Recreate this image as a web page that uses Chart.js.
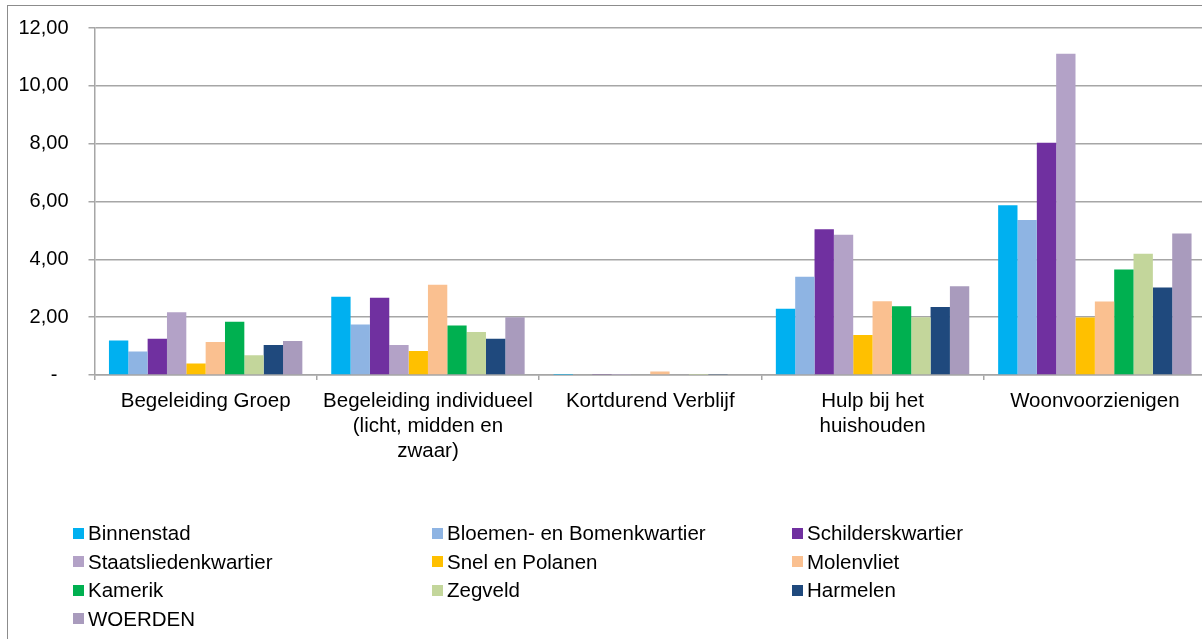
<!DOCTYPE html>
<html>
<head>
<meta charset="utf-8">
<script src="https://cdn.jsdelivr.net/npm/chart.js@4/dist/chart.umd.min.js"></script>
<style>
  html, body { margin: 0; padding: 0; background: #fff; overflow: hidden; }
  body { width: 1202px; height: 639px; position: relative; font-family: "Liberation Sans", Arial, sans-serif; }
  #frame { position: absolute; left: 7px; top: 5px; width: 1300px; height: 700px;
           border-left: 1px solid #8c8c8c; border-top: 1px solid #8c8c8c; }
  #wrap { position: absolute; left: 7px; top: 5px; width: 1199px; height: 634px; }
  #legend { position: absolute; left: 73px; top: 519px; display: grid;
            grid-template-columns: 359px 360px 360px; grid-auto-rows: 28.5px; }
  #legend .item { display: flex; align-items: center; font-size: 20.5px; color: #000; white-space: nowrap; }
  #legend .box { width: 11px; height: 11px; margin-right: 4px; flex: none; }
</style>
</head>
<body>
<div id="frame"></div>
<div id="wrap"><canvas id="chart"></canvas></div>
<div id="legend"></div>
<script>
// categories (multi-line labels as arrays)
var categories = [
  "Begeleiding Groep",
  ["Begeleiding individueel", "(licht, midden en", "zwaar)"],
  "Kortdurend Verblijf",
  ["Hulp bij het", "huishouden"],
  "Woonvoorzienigen"
];

// one array per district, values per category
var binnenstad   = [1.19, 2.71, 0.01, 2.29, 5.87];
var bloemen      = [0.81, 1.75, 0.03, 3.40, 5.36];
var schilders    = [1.25, 2.67, 0.02, 5.04, 8.03];
var staatslieden = [2.17, 1.04, 0.01, 4.85, 11.11];
var snel         = [0.40, 0.83, 0.03, 1.38, 1.99];
var molenvliet   = [1.14, 3.12, 0.12, 2.55, 2.54];
var kamerik      = [1.84, 1.71, 0.03, 2.38, 3.65];
var zegveld      = [0.68, 1.49, 0.01, 2.00, 4.19];
var harmelen     = [1.04, 1.25, 0.02, 2.35, 3.03];
var woerden      = [1.18, 2.00, 0.03, 3.07, 4.89];

var seriesNames = ["Binnenstad", "Bloemen- en Bomenkwartier", "Schilderskwartier",
  "Staatsliedenkwartier", "Snel en Polanen", "Molenvliet", "Kamerik", "Zegveld",
  "Harmelen", "WOERDEN"];
var seriesValues = [binnenstad, bloemen, schilders, staatslieden, snel,
  molenvliet, kamerik, zegveld, harmelen, woerden];
var seriesColors = ["#00b0f0", "#8eb4e3", "#7030a0", "#b3a2c7", "#ffc000",
  "#fac090", "#00b050", "#c3d69b", "#1f497d", "#a99bbd"];

var yTicks = [0, 2, 4, 6, 8, 10, 12];

(function () {
  "use strict";
  var font = { family: "'Liberation Sans', Arial, sans-serif", size: 20 };
  var gridColor = "#a6a6a6";

  var datasets = seriesNames.map(function (name, i) {
    return {
      label: name,
      data: seriesValues[i],
      backgroundColor: seriesColors[i],
      borderWidth: 0,
      categoryPercentage: 0.87,
      barPercentage: 1.0
    };
  });

  var fmt = function (v) {
    if (v === 0) return "-  ";
    return v.toFixed(2).replace(".", ",");
  };

  // fixed axis sizes so the plot area lands where the reference has it
  var noPad = function (s) {
    s.paddingTop = 0; s.paddingBottom = 0; s.paddingLeft = 0; s.paddingRight = 0;
  };

  new Chart(document.getElementById("chart"), {
    type: "bar",
    data: { labels: categories, datasets: datasets },
    options: {
      responsive: true,
      maintainAspectRatio: false,
      animation: false,
      layout: { padding: { top: 23, right: 0, bottom: 164, left: 0 } },
      scales: {
        x: {
          grid: { offset: true, drawOnChartArea: false, drawTicks: true, tickLength: 5, color: gridColor, lineWidth: 1.5 },
          border: { color: gridColor, width: 1.5 },
          ticks: { color: "#000", font: { family: font.family, size: 20.5, lineHeight: 1.22 }, padding: 9, maxRotation: 0, autoSkip: false },
          afterFit: function (s) { s.height = 100; noPad(s); }
        },
        y: {
          min: 0,
          max: 12,
          afterBuildTicks: function (s) { s.ticks = yTicks.map(function (v) { return { value: v }; }); },
          grid: { color: gridColor, lineWidth: 1.5, drawTicks: true, tickLength: 6 },
          border: { color: gridColor, width: 1.5 },
          ticks: { color: "#000", font: font, padding: 20, callback: fmt },
          afterFit: function (s) { s.width = 87.5; noPad(s); }
        }
      },
      plugins: {
        legend: { display: false },
        tooltip: { enabled: false }
      }
    }
  });

  var legend = document.getElementById("legend");
  seriesNames.forEach(function (name, i) {
    var item = document.createElement("div");
    item.className = "item";
    var box = document.createElement("span");
    box.className = "box";
    box.style.background = seriesColors[i];
    var txt = document.createElement("span");
    txt.textContent = name;
    item.appendChild(box);
    item.appendChild(txt);
    legend.appendChild(item);
  });
})();
</script>
</body>
</html>
